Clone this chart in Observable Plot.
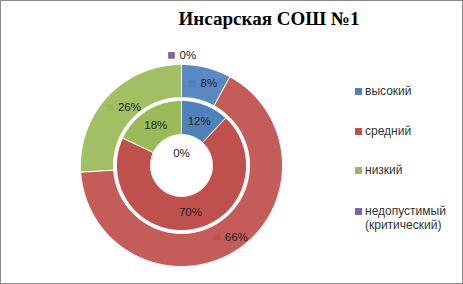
<!DOCTYPE html>
<html><head><meta charset="utf-8">
<script src="https://cdn.jsdelivr.net/npm/d3@7"></script>
<script src="https://cdn.jsdelivr.net/npm/@observablehq/plot@0.6"></script>
<style>
body{margin:0;background:#fff;}
#wrap{position:relative;width:463px;height:284px;overflow:hidden;font-family:"Liberation Sans",Arial,sans-serif;}
#wrap svg{position:absolute;left:0;top:0;}
#frame{position:absolute;left:0;top:0;width:461px;height:282px;border:1px solid #8a8a8a;pointer-events:none;}
#title{position:absolute;left:69px;top:8px;width:400px;text-align:center;font-family:"Liberation Serif","DejaVu Serif",serif;font-weight:bold;font-size:19px;color:#000;}
.lg{position:absolute;left:355px;font-size:12px;color:#333;line-height:14px;}
.lg i{position:absolute;left:0;top:4px;width:7px;height:7px;}
.lg span{display:block;margin-left:10px;white-space:pre;}
</style></head>
<body>
<div id="wrap">
  <div id="title"></div>
  <div id="legend"></div>
  <div id="frame"></div>
</div>
<script>
const title = "Инсарская СОШ №1";
const categories = ["высокий", "средний", "низкий", "недопустимый (критический)"];
const legendLabels = ["высокий", "средний", "низкий", "недопустимый\n(критический)"];
const outerValues = [8, 66, 26, 0];
const innerValues = [12, 70, 18, 0];
const palette = ["#4F81BD", "#C0504D", "#9BBB59", "#8064A2"];

// layout
const cx = 181, cy = 165, R = 101;
const rings = [
  {name: "outer", values: outerValues, r0: 68 / R, r1: 1},
  {name: "inner", values: innerValues, r0: 31 / R, r1: 65 / R}
];

const pie = d3.pie().sort(null).value(d => d.value).startAngle(0).endAngle(2 * Math.PI);

const polys = [];
const labels = [];
rings.forEach(ring => {
  const arcs = pie(ring.values.map((v, i) => ({cat: categories[i], value: v})));
  arcs.forEach((a, i) => {
    const id = ring.name + i;
    if (a.data.value > 0) {
      const n = Math.max(2, Math.ceil((a.endAngle - a.startAngle) / 0.015));
      for (let k = 0; k <= n; k++) {
        const t = a.startAngle + (a.endAngle - a.startAngle) * k / n;
        polys.push({id, ring: ring.name, cat: a.data.cat, x: ring.r1 * Math.sin(t), y: ring.r1 * Math.cos(t)});
      }
      for (let k = n; k >= 0; k--) {
        const t = a.startAngle + (a.endAngle - a.startAngle) * k / n;
        polys.push({id, ring: ring.name, cat: a.data.cat, x: ring.r0 * Math.sin(t), y: ring.r0 * Math.cos(t)});
      }
    }
    const m = (a.startAngle + a.endAngle) / 2;
    let r = (ring.r0 + ring.r1) / 2;
    if (a.data.value === 0) r = ring.name === "outer" ? 1.09 : 0.12;
    labels.push({ring: ring.name, cat: a.data.cat, text: a.data.value + "%", x: r * Math.sin(m), y: r * Math.cos(m)});
  });
});

const outerPolys = polys.filter(d => d.ring === "outer");
const outerLabels = labels.filter(d => d.ring === "outer");
const innerLabels = labels.filter(d => d.ring === "inner");

const chart = Plot.plot({
  width: 463, height: 284, margin: 0,
  x: {domain: [-1, 1], range: [cx - R, cx + R], axis: null},
  y: {domain: [-1, 1], range: [cy + R, cy - R], axis: null},
  color: {domain: categories, range: palette},
  marks: [
    Plot.line(polys, {x: "x", y: "y", z: "id", fill: "cat", stroke: "white", strokeWidth: 1, curve: "linear-closed"}),
    Plot.line(outerPolys, {x: "x", y: "y", z: "id", fill: "white", fillOpacity: 0.07, stroke: "none", curve: "linear-closed"}),
    Plot.dot(outerLabels, {x: "x", y: "y", symbol: "square", r: 3.8, fill: "cat", dx: -10}),
    Plot.text(outerLabels, {x: "x", y: "y", text: "text", textAnchor: "start", dx: -2, fontSize: 11.5, fill: "#222", fontFamily: "Liberation Sans, Arial, sans-serif"}),
    Plot.text(innerLabels, {x: "x", y: "y", text: "text", fontSize: 11.5, fill: "#222", fontFamily: "Liberation Sans, Arial, sans-serif"})
  ]
});
document.getElementById("wrap").insertBefore(chart, document.getElementById("title"));
document.getElementById("title").textContent = title;

const legendTops = [84, 124, 163, 204];
const lg = document.getElementById("legend");
legendLabels.forEach((t, i) => {
  const el = document.createElement("div");
  el.className = "lg";
  el.style.top = legendTops[i] + "px";
  const sq = document.createElement("i");
  sq.style.background = palette[i];
  const sp = document.createElement("span");
  sp.textContent = t;
  el.appendChild(sq); el.appendChild(sp);
  lg.appendChild(el);
});
</script>
</body></html>
